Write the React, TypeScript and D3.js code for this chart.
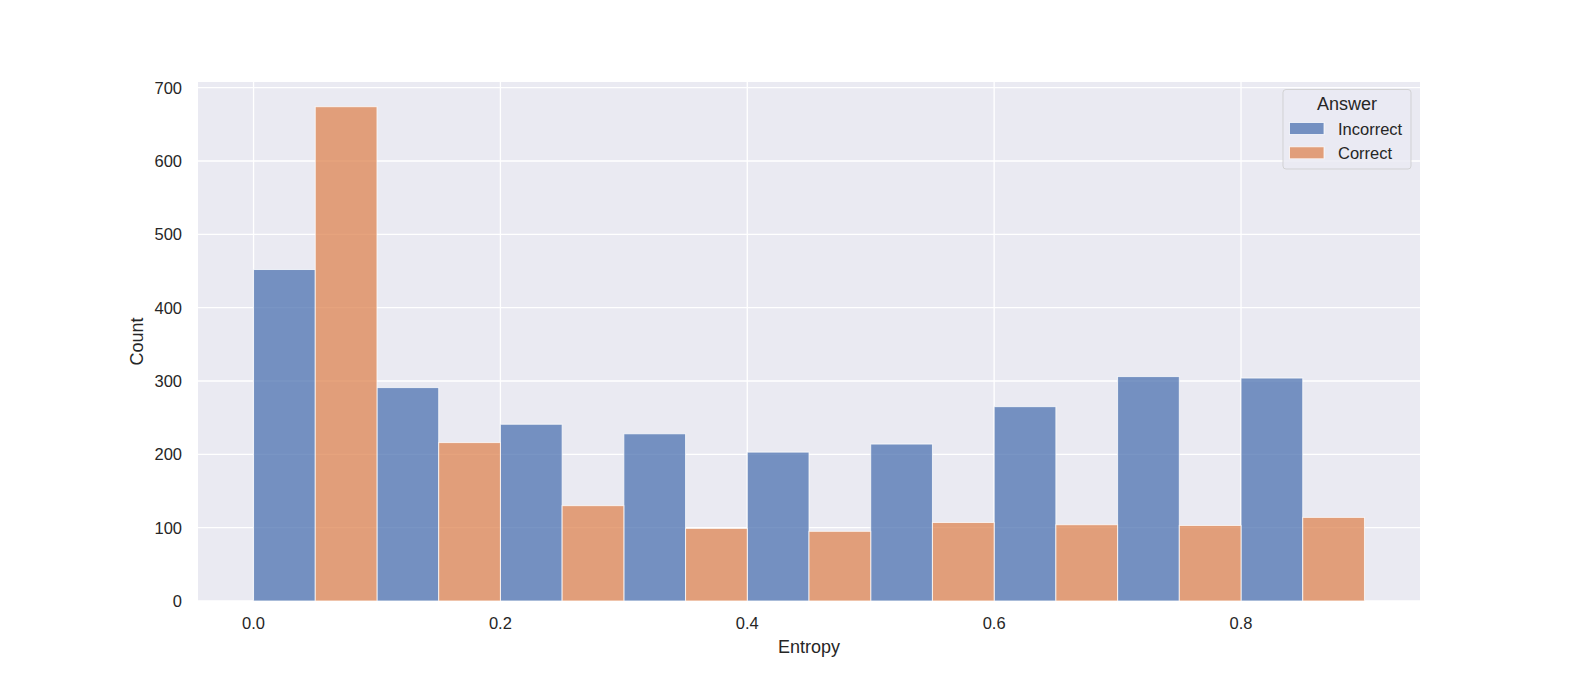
import React from "react";
import * as d3 from "d3";

const binEdges = [0.0, 0.1, 0.2, 0.3, 0.4, 0.5, 0.6, 0.7, 0.8, 0.9];
const incorrectCounts = [452, 291, 241, 228, 203, 214, 265, 306, 304];
const correctCounts = [674, 216, 130, 99, 95, 107, 104, 103, 114];
const seriesNames = ["Incorrect", "Correct"];
const seriesColors = ["#4C72B0", "#DD8452"];
const xTicks = [0.0, 0.2, 0.4, 0.6, 0.8];
const yTicks = [0, 100, 200, 300, 400, 500, 600, 700];

const W = 1578;
const H = 676;
const L = 198;
const R = 1420;
const T = 82;
const B = 601;
const FONT = "'Liberation Sans', Arial, Helvetica, sans-serif";

export default function App() {
  const maxV = d3.max([...incorrectCounts, ...correctCounts]) as number;
  const x = d3.scaleLinear().domain([-0.045, 0.945]).range([L, R]);
  const y = d3.scaleLinear().domain([0, maxV * 1.05]).range([B, T]);
  const series = [incorrectCounts, correctCounts];

  const bars: JSX.Element[] = [];
  series.forEach((vals, si) => {
    vals.forEach((v, i) => {
      const lo = binEdges[i];
      const hi = binEdges[i + 1];
      const w = (hi - lo) / 2;
      const x0 = x(lo + si * w);
      const x1 = x(lo + (si + 1) * w);
      bars.push(
        <rect
          key={`${si}-${i}`}
          x={x0}
          y={y(v)}
          width={x1 - x0}
          height={y(0) - y(v)}
          fill={seriesColors[si]}
          fillOpacity={0.75}
          stroke="#ffffff"
          strokeOpacity={0.75}
          strokeWidth={1}
        />
      );
    });
  });

  return (
    <svg
      width={W}
      height={H}
      style={{ position: "absolute", left: 0, top: 0, display: "block", background: "#fff" }}
      fontFamily={FONT}
    >
      <rect x={L} y={T} width={R - L} height={B - T} fill="#EAEAF2" />
      {yTicks.map((t) => (
        <line key={`gy${t}`} x1={L} x2={R} y1={y(t)} y2={y(t)} stroke="#fff" strokeWidth={1.3} />
      ))}
      {xTicks.map((t) => (
        <line key={`gx${t}`} x1={x(t)} x2={x(t)} y1={T} y2={B} stroke="#fff" strokeWidth={1.3} />
      ))}
      {bars}
      {yTicks.map((t) => (
        <text key={`ty${t}`} x={182} y={y(t)} dy="0.36em" textAnchor="end" fontSize={16.5} fill="#262626">
          {t}
        </text>
      ))}
      {xTicks.map((t) => (
        <text key={`tx${t}`} x={x(t)} y={629} textAnchor="middle" fontSize={16.5} fill="#262626">
          {d3.format(".1f")(t)}
        </text>
      ))}
      <text x={(L + R) / 2} y={653} textAnchor="middle" fontSize={18} fill="#262626">
        Entropy
      </text>
      <text
        transform={`translate(143,${(T + B) / 2}) rotate(-90)`}
        textAnchor="middle"
        fontSize={18}
        fill="#262626"
      >
        Count
      </text>
      <g>
        <rect x={1283} y={89.5} width={128} height={79.5} rx={3} fill="#EAEAF2" fillOpacity={0.8} stroke="#cccccc" strokeOpacity={0.8} strokeWidth={1} />
        <text x={1347} y={109.5} textAnchor="middle" fontSize={18} fill="#262626">
          Answer
        </text>
        {seriesNames.map((n, i) => (
          <g key={n}>
            <rect x={1289.5} y={122.5 + i * 24.3} width={34.5} height={12} fill={seriesColors[i]} fillOpacity={0.75} stroke="#fff" strokeOpacity={0.75} strokeWidth={1} />
            <text x={1338} y={134.8 + i * 24.3} fontSize={16.5} fill="#262626">
              {n}
            </text>
          </g>
        ))}
      </g>
    </svg>
  );
}
